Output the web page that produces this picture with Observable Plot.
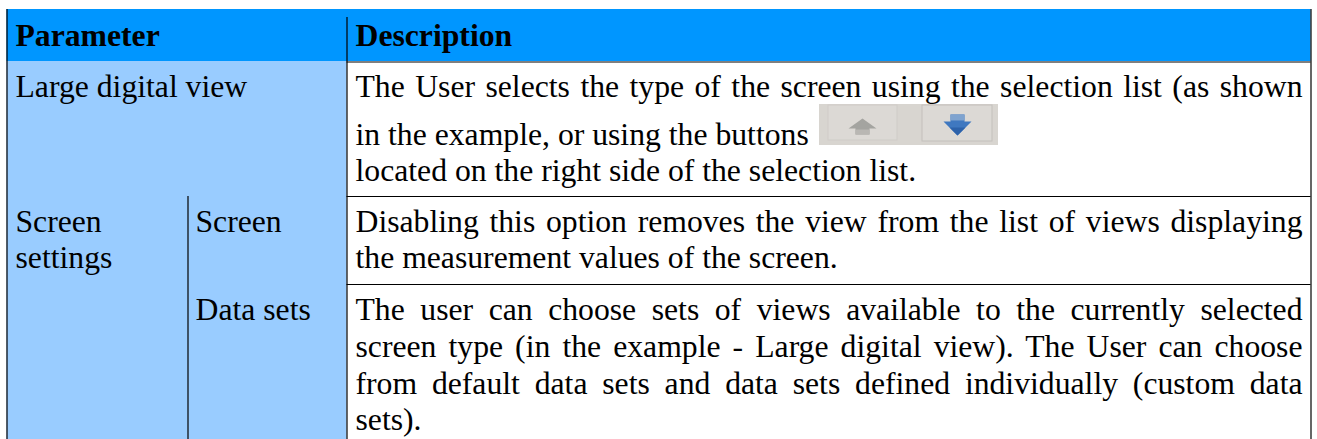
<!DOCTYPE html>
<html><head><meta charset="utf-8">
<script src="https://cdn.jsdelivr.net/npm/d3@7"></script>
<script src="https://cdn.jsdelivr.net/npm/@observablehq/plot@0.6"></script>
<style>html,body{margin:0;padding:0;background:#fff;overflow:hidden}svg{display:block}</style>
</head><body><div id="chart"></div>
<script>
// Table content
const headers = ["Parameter", "Description"];
const parameterLabels = ["Large digital view", "Screen", "settings", "Screen", "Data sets"];
const descriptionLines = [
  "The User selects the type of the screen using the selection list (as shown",
  "in the example, or using the buttons",
  "located on the right side of the selection list.",
  "Disabling this option removes the view from the list of views displaying",
  "the measurement values of the screen.",
  "The user can choose sets of views available to the currently selected",
  "screen type (in the example - Large digital view). The User can choose",
  "from default data sets and data sets defined individually (custom data",
  "sets)."
];
const justifiedFlags = [true,false,false,true,false,true,true,true,false];

// Layout of the grid
const W = 1317, H = 439;
const col = {left:6.5, sub:187.5, desc:346.5, right:1310.5};
const row = {top:9, head:61, r1:196, r2:284, bottom:439};
const textX = {p:15, sub:195, d:355};
const descBase = [96.5,144.5,180.5,231.5,267.5,319.5,356.5,393.5,429.5];
const paramPos = [[textX.p,96.5],[textX.p,231.5],[textX.p,267.5],[textX.sub,231.5],[textX.sub,319.5]];
const font = {fontFamily:"Liberation Serif", fontSize:31.7, fill:"#000", textAnchor:"start", lineAnchor:"bottom"};

const headerRows = headers.map((t,i)=>({t, x:[textX.p,textX.d][i], y:45.2}));
const paramRows = parameterLabels.map((t,i)=>({t, x:paramPos[i][0], y:paramPos[i][1]}));
const descRows = descriptionLines.map((t,i)=>({t, x:textX.d, y:descBase[i], j:justifiedFlags[i]}));

const upArrow = [[862,118],[876,128],[869,128],[869,134],[855,134],[855,128],[848,128],[862,118]];
const upStem = [[855,129],[869,129],[869,134],[855,134],[855,129]];
const downArrow = [[943,121],[950,121],[950,114],[964,114],[964,121],[971,121],[957,135],[943,121]];
const downStem = [[950,114],[964,114],[964,120],[950,120],[950,114]];
const downTip = [[949,127],[965,127],[957,135],[949,127]];

const rect = (x1,x2,y1,y2,fill,extra={}) => Plot.rectY([0],{x1:()=>x1,x2:()=>x2,y1:()=>y1,y2:()=>y2,fill,inset:0,...extra});
const poly = (pts,fill) => Plot.line(pts,{x:d=>d[0],y:d=>d[1],fill,stroke:"none",curve:"linear"});

const chart = Plot.plot({
  width:W, height:H, margin:0,
  x:{domain:[0,W], range:[0,W], axis:null},
  y:{domain:[0,H], range:[0,H], axis:null},
  style:{background:"#fff"},
  marks:[
    rect(col.left,col.right,row.top,row.head,"#0096ff"),
    rect(col.left,col.desc,row.head,row.bottom,"#99ccff"),
    // buttons picture
    rect(819,998,104,145,"#d8d5d0"),
    rect(828,897,105,140,"#dcd9d5",{stroke:"#cfccc7"}),
    rect(922,992,105,141,"#dcd9d5",{stroke:"#c3c0bb"}),
    poly(upArrow,"#a4a4a0"),
    poly(upStem,"#b9b7b3"),
    poly(downArrow,"#3f78c0"),
    poly(downStem,"#7fa3cf"),
    poly(downTip,"#2d62aa"),
    // grid
    Plot.ruleX([col.left,col.right],{x:d=>d,y1:row.top,y2:row.bottom,stroke:"#000",strokeWidth:1.2}),
    Plot.ruleX([col.desc],{x:d=>d,y1:17,y2:row.bottom,stroke:"#000",strokeWidth:1.2}),
    Plot.ruleX([col.sub],{x:d=>d,y1:row.r1,y2:row.bottom,stroke:"#000",strokeWidth:1.2}),
    Plot.ruleY([row.head+0.5,row.r1,row.r2],{y:d=>d,x1:col.desc,x2:col.right,stroke:"#000",strokeWidth:1.2}),
    // text
    Plot.text(headerRows,{x:"x",y:"y",text:"t",...font,fontWeight:"bold"}),
    Plot.text(paramRows,{x:"x",y:"y",text:"t",...font}),
    Plot.text(descRows.filter(d=>!d.j),{x:"x",y:"y",text:"t",...font}),
    Plot.text(descRows.filter(d=>d.j),{x:"x",y:"y",text:"t",...font,className:"justified"})
  ]
});
document.getElementById("chart").append(chart);
// justify the lines that run to the right margin of the description column
const rightEdge = 1302;
chart.querySelectorAll(".justified text").forEach(el=>{
  el.style.wordSpacing = "0px";
  const len = el.getComputedTextLength();
  const gaps = (el.textContent.match(/ /g)||[]).length;
  el.style.wordSpacing = ((rightEdge - textX.d - len)/gaps)+"px";
});
</script></body></html>
